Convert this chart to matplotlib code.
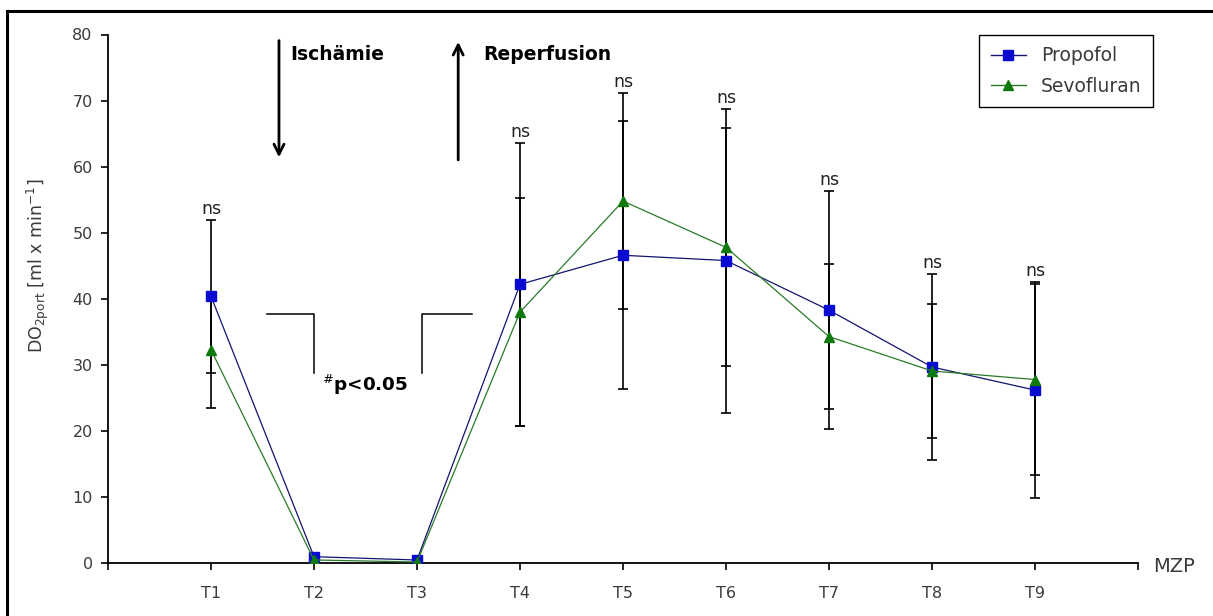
import matplotlib
matplotlib.use("Agg")
import matplotlib.pyplot as plt
from matplotlib.lines import Line2D

# Measurement time points (MZP) and group statistics
time_points = ["T1", "T2", "T3", "T4", "T5", "T6", "T7", "T8", "T9"]
propofol_mean = [40.4, 1.0, 0.5, 42.2, 46.6, 45.8, 38.3, 29.7, 26.2]
propofol_sd = [11.6, 0.0, 0.0, 21.4, 20.3, 23.0, 18.0, 14.0, 16.3]
sevofluran_mean = [32.3, 0.5, 0.2, 38.0, 54.8, 47.8, 34.3, 29.1, 27.8]
sevofluran_sd = [8.8, 0.0, 0.0, 17.3, 16.4, 18.0, 11.0, 10.1, 14.4]
significance = ["ns", "", "", "ns", "ns", "ns", "ns", "ns", "ns"]
y_ticks = [0, 10, 20, 30, 40, 50, 60, 70, 80]

W, H = 1213, 616
fig = plt.figure(figsize=(W / 100, H / 100), dpi=100)
fig.patch.set_facecolor("white")

# axes placed in pixel terms
x0, x1 = 108, 1138
y_top, y_bot = 34.5, 563.3
ax = fig.add_axes([x0 / W, 1 - y_bot / H, (x1 - x0) / W, (y_bot - y_top) / H])
ax.set_xlim(0, 10)
ax.set_ylim(0, 80)

x = list(range(1, len(time_points) + 1))
tick_color = "#3a3a3a"

# error bars (black, behind the markers)
ax.errorbar(x, propofol_mean, yerr=propofol_sd, fmt="none", ecolor="black",
            elinewidth=1.2, capsize=3.6, capthick=1.2, zorder=2)
ax.errorbar(x, sevofluran_mean, yerr=sevofluran_sd, fmt="none", ecolor="black",
            elinewidth=1.2, capsize=3.6, capthick=1.2, zorder=2)

# series lines with markers
ax.plot(x, propofol_mean, color="#141470", lw=0.9, zorder=3)
ax.plot(x, propofol_mean, ls="none", marker="s", ms=7.5, mfc="#0a0ad0",
        mec="#0a0ad0", zorder=4)
ax.plot(x, sevofluran_mean, color="#2a7a2a", lw=0.9, zorder=5)
ax.plot(x, sevofluran_mean, ls="none", marker="^", ms=7.5, mfc="#0e7a0e",
        mec="#0e7a0e", zorder=6)

# significance labels above the highest error bar cap
for xi, lab, pm, ps, sm, ss in zip(x, significance, propofol_mean, propofol_sd,
                                   sevofluran_mean, sevofluran_sd):
    if lab:
        top = max(pm + ps, sm + ss)
        ax.text(xi, top + 0.9, lab, ha="center", va="baseline",
                fontsize=12.5, color="#222222")

# spines and ticks
for s in ("top", "right"):
    ax.spines[s].set_visible(False)
for s in ("left", "bottom"):
    ax.spines[s].set_linewidth(1.3)
    ax.spines[s].set_color("black")
ax.set_xticks(x)
ax.set_xticklabels(time_points)
ax.set_xticks([0, 10], minor=True)
ax.set_yticks(y_ticks)
ax.tick_params(axis="both", which="both", direction="out", length=5, width=1.2,
               colors="black", labelcolor=tick_color, labelsize=11.5)
ax.tick_params(axis="x", pad=11)
ax.tick_params(axis="y", pad=6)

# axis titles
fig.text(38 / W, 1 - 266 / H, r"DO$_{\mathregular{2port}}$ [ml x min$^{\mathregular{-1}}$]",
         rotation=90, ha="center", va="center", fontsize=12.5, color=tick_color)
fig.text(1153 / W, 1 - 567 / H, "MZP", ha="left", va="center",
         fontsize=14, color=tick_color)

# phase arrows and labels
ax.annotate("", xy=(1.66, 61.0), xytext=(1.66, 79.5),
            arrowprops=dict(arrowstyle="->", lw=2.0, color="black",
                            mutation_scale=18))
ax.annotate("", xy=(3.40, 79.3), xytext=(3.40, 60.6),
            arrowprops=dict(arrowstyle="->", lw=2.0, color="black",
                            mutation_scale=18))
ax.text(1.77, 76.9, "Ischämie", fontsize=13.5, fontweight="bold",
        ha="left", va="center", color="black")
ax.text(3.64, 76.9, "Reperfusion", fontsize=13.5, fontweight="bold",
        ha="left", va="center", color="black")

# significance bracket between T2 and T3
ax.plot([1.54, 2.0, 2.0], [37.7, 37.7, 28.8], color="black", lw=1.1)
ax.plot([3.05, 3.05, 3.53], [28.8, 37.7, 37.7], color="black", lw=1.1)
ax.text(2.08, 27.0, r"$^{\#}$p<0.05", fontsize=13.2, fontweight="bold",
        ha="left", va="center", color="black")

# legend
handles = [
    Line2D([], [], color="#141470", lw=1.0, marker="s", ms=7, mfc="#0a0ad0",
           mec="#0a0ad0"),
    Line2D([], [], color="#2a7a2a", lw=1.0, marker="^", ms=7, mfc="#0e7a0e",
           mec="#0e7a0e"),
]
leg = fig.legend(handles, ["Propofol", "Sevofluran"], loc="upper right",
                 bbox_to_anchor=(1153 / W, 1 - 35 / H), frameon=True,
                 fancybox=False, framealpha=1, edgecolor="black",
                 fontsize=13.5, handlelength=1.9, borderaxespad=0,
                 borderpad=0.6, labelspacing=0.6, handletextpad=0.8)
leg.get_frame().set_linewidth(1.0)
for t in leg.get_texts():
    t.set_color(tick_color)

# outer frame (top and left edges)
fig.add_artist(Line2D([7 / W, 7 / W], [0, 1 - 11 / H], transform=fig.transFigure,
                      color="black", lw=2.2))
fig.add_artist(Line2D([7 / W, 1], [1 - 11 / H, 1 - 11 / H],
                      transform=fig.transFigure, color="black", lw=2.2))

fig.savefig("out.png", dpi=100, facecolor="white")
